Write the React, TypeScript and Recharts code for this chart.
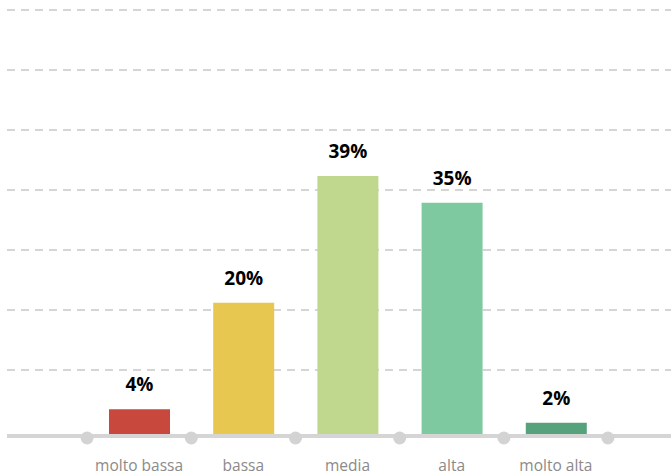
import React from "react";
import { BarChart, Bar, XAxis, YAxis, CartesianGrid, Cell, LabelList } from "recharts";

const categories = ["molto bassa", "bassa", "media", "alta", "molto alta"];
const values = [4, 20, 39, 35, 2];
const colors = ["#c9483e", "#e8c750", "#bfd88d", "#7ec9a0", "#56a27c"];
const gridTicks = [9.9, 18.9, 27.9, 36.9, 45.9, 54.9, 63.9];
const yMax = 63.9;

const data = categories.map((c, i) => ({ name: c, value: values[i] }));

const FONT = "'Open Sans', 'Noto Sans', sans-serif";

const CategoryTick = (props: any) => {
  const { x, y, payload, index } = props;
  const half = 52;
  const last = index === categories.length - 1;
  return (
    <g>
      <circle cx={x - half} cy={y - 6} r={6.5} fill="#d3d3d3" />
      {last && <circle cx={x + half} cy={y - 6} r={6.5} fill="#d3d3d3" />}
      <text x={x} y={y + 27} textAnchor="middle" fill="#8a8a8a" fontSize={15.5} fontFamily={FONT}>
        {payload.value}
      </text>
    </g>
  );
};

export default function App() {
  return (
    <div style={{ position: "absolute", left: 0, top: 0, width: 671, height: 475, background: "#fff" }}>
      <BarChart width={671} height={475} data={data} margin={{ top: 10, right: 0, bottom: 0, left: 7 }}>
        <CartesianGrid vertical={false} stroke="#d5d5d5" strokeWidth={2} strokeDasharray="8 6" />
        <YAxis hide domain={[0, yMax]} ticks={gridTicks} type="number" />
        <Bar dataKey="value" barSize={61} isAnimationActive={false}>
          {data.map((d, i) => (
            <Cell key={d.name} fill={colors[i]} />
          ))}
          <LabelList
            dataKey="value"
            position="top"
            offset={18}
            formatter={(v: any) => `${v}%`}
            fill="#000"
            fontSize={19}
            fontWeight={700}
            fontFamily={FONT}
          />
        </Bar>
        <XAxis
          dataKey="name"
          height={39}
          axisLine={{ stroke: "#d5d5d5", strokeWidth: 4 }}
          tickLine={false}
          tick={<CategoryTick />}
          padding={{ left: 80, right: 63 }}
          interval={0}
        />
      </BarChart>
    </div>
  );
}
